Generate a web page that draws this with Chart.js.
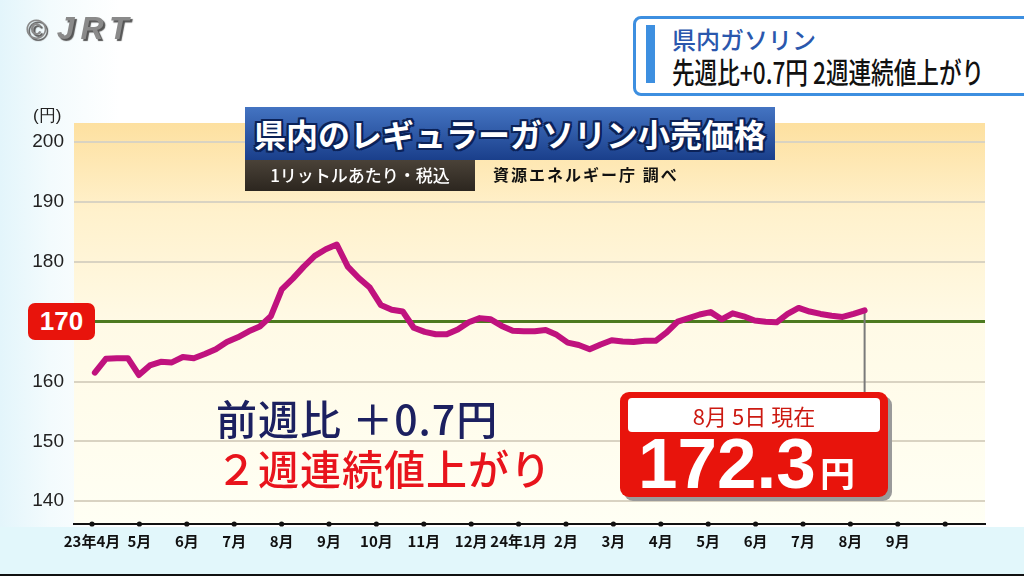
<!DOCTYPE html>
<html lang="ja">
<head>
<meta charset="utf-8">
<script src="https://cdn.jsdelivr.net/npm/chart.js@4/dist/chart.umd.min.js"></script>
<style>
  html, body { margin: 0; padding: 0; }
  body {
    width: 1024px; height: 576px; overflow: hidden; position: relative;
    background: linear-gradient(to right, #e3f5fb 0px, #f3fbfd 50px, #ffffff 120px);
    font-family: "Noto Sans CJK JP", "Noto Sans", sans-serif;
  }
  #chart { position: absolute; left: 0; top: 0; }
  .abs { position: absolute; white-space: nowrap; }
  #bottomStrip { left: 0; top: 527px; width: 1024px; height: 47px; background: #e2f7fb; border-bottom: 2px solid #111; }
  #logo { left: 26px; top: 10px; color: #8a8a8a; text-shadow: 2px 2px 1px #555; font-family: "Liberation Sans", sans-serif; }
  #logo .c { font-size: 28px; font-weight: bold; }
  #logo .j { font-size: 32px; font-weight: bold; font-style: italic; letter-spacing: 6px; margin-left: 10px; }
  #topBox { left: 633px; top: 16px; width: 400px; height: 74px; border: 3px solid #3d8fe0; border-radius: 8px; background: #fff; }
  #topBar { left: 10px; top: 6px; width: 9px; height: 58px; background: #3d8fe0; }
  #topLine1 { left: 36px; top: 2px; font-size: 24px; color: #2a57ad; font-weight: 500; }
  #topLine2 { left: 36px; top: 33px; font-size: 29px; color: #111; font-weight: 500; transform: scaleX(0.78); transform-origin: left top; line-height: 38px; }
  #yen { left: 33px; top: 104px; font-size: 17px; color: #222; font-family: "Liberation Sans", sans-serif; }
  #tag170 { left: 28px; top: 303px; width: 67px; height: 37px; background: #e8140c; border-radius: 7px; color: #fff;
    font: bold 26px "Liberation Sans", sans-serif; text-align: center; line-height: 37px; }
  #titleBox { left: 245px; top: 107px; width: 530px; height: 53px; background: linear-gradient(#4474c2, #1a3f8b);
    color: #fff; font-size: 32px; font-weight: bold; text-align: center; line-height: 52px;
    text-shadow: -2px -2px 0 #0b2258, 2px -2px 0 #0b2258, -2px 2px 0 #0b2258, 2px 2px 0 #0b2258, 0 2px 0 #0b2258, 0 -2px 0 #0b2258, 2px 0 0 #0b2258, -2px 0 0 #0b2258; }
  #subBox { left: 245px; top: 160px; width: 230px; height: 31px; background: linear-gradient(#4a4238, #2c261f);
    color: #fff; font-size: 17px; font-weight: 500; text-align: center; line-height: 30px; }
  #source { left: 493px; top: 162px; font-size: 16px; font-weight: bold; color: #111; letter-spacing: 2px; }
  #diff1 { left: 216px; top: 392px; font-size: 41px; font-weight: 500; color: #1c2060; line-height: 50px; letter-spacing: 1px; }
  #diff2 { left: 216px; top: 442px; font-size: 41px; font-weight: 500; color: #e8141c; line-height: 50px; letter-spacing: 1px; }
  #noteBox { left: 620px; top: 392px; width: 268px; height: 105px; background: #e8140c; border-radius: 9px; box-shadow: 4px 4px 0 #9a9a9a; }
  #noteDate { left: 8px; top: 6px; width: 252px; height: 34px; background: #fff; border-radius: 4px; color: #cc1a12;
    font-size: 22px; text-align: center; line-height: 34px; }
  #noteVal { left: 18px; top: 35px; color: #fff; font: bold 71px "Liberation Sans", sans-serif; line-height: 74px; letter-spacing: 0px; }
  #noteYen { left: 200px; top: 60px; color: #fff; font-size: 35px; font-weight: bold; line-height: 40px; }
</style>
</head>
<body>
<div id="bottomStrip" class="abs"></div>
<canvas id="chart" width="1024" height="576"></canvas>

<div id="logo" class="abs"><span class="c">©</span><span class="j">JRT</span></div>
<div id="topBox" class="abs">
  <div id="topBar" class="abs"></div>
  <div id="topLine1" class="abs">県内ガソリン</div>
  <div id="topLine2" class="abs">先週比+0.7円 2週連続値上がり</div>
</div>
<div id="yen" class="abs">(円)</div>
<div id="tag170" class="abs">170</div>
<div id="titleBox" class="abs">県内のレギュラーガソリン小売価格</div>
<div id="subBox" class="abs">1リットルあたり・税込</div>
<div id="source" class="abs">資源エネルギー庁 調べ</div>
<div id="diff1" class="abs">前週比 ＋0.7円</div>
<div id="diff2" class="abs">２週連続値上がり</div>
<div id="noteBox" class="abs">
  <div id="noteDate" class="abs">8月 5日 現在</div>
  <div id="noteVal" class="abs">172.3</div>
  <div id="noteYen" class="abs">円</div>
</div>

<script>
// 月ラベル (x軸, 1目盛り = 1か月)
const monthLabels = ['23年4月', '5月', '6月', '7月', '8月', '9月', '10月', '11月', '12月',
  '24年1月', '2月', '3月', '4月', '5月', '6月', '7月', '8月', '9月', ''];

// 週ごとのレギュラーガソリン価格 (2023/4/3 〜 2024/8/5, 円)
const prices = [
  161.5, 163.8, 163.9, 163.9, 161.1, 162.7, 163.3, 163.2, 164.1, 163.9,
  164.6, 165.4, 166.6, 167.4, 168.4, 169.2, 170.9, 175.4, 177.2, 179.2,
  181.0, 182.1, 182.9, 179.2, 177.3, 175.7, 172.8, 172.0, 171.7, 169.0,
  168.3, 167.9, 167.9, 168.7, 169.9, 170.6, 170.4, 169.3, 168.5, 168.4,
  168.4, 168.6, 167.8, 166.5, 166.1, 165.4, 166.2, 166.9, 166.7, 166.6,
  166.8, 166.8, 168.2, 170.0, 170.6, 171.2, 171.6, 170.4, 171.4, 170.9,
  170.2, 170.0, 169.9, 171.3, 172.3, 171.7, 171.3, 171.0, 170.8, 171.3, 171.9
];

const yTicks = [140, 150, 160, 170, 180, 190, 200];

// 最初の週 (4/3) の位置と1週間の長さ (月単位)
const firstWeek = 0.06;
const weekLen = 0.232;

const points = prices.map((p, i) => ({ x: firstWeek + i * weekLen, y: p }));

// 背景のグラデーション + 軸の点 + 現在値への線
const decorPlugin = {
  id: 'decor',
  beforeDraw(chart) {
    const { ctx, chartArea: a } = chart;
    const g = ctx.createLinearGradient(0, a.top, 0, a.bottom);
    g.addColorStop(0, '#fde0a0');
    g.addColorStop(0.22, '#fff1cc');
    g.addColorStop(0.5, '#fffae6');
    g.addColorStop(1, '#fffff4');
    ctx.save();
    ctx.fillStyle = g;
    ctx.fillRect(a.left, a.top, a.right - a.left, a.bottom - a.top);
    ctx.restore();
  },
  beforeDatasetsDraw(chart) {
    const { ctx } = chart;
    const meta = chart.getDatasetMeta(0);
    const last = meta.data[meta.data.length - 1];
    ctx.save();
    ctx.strokeStyle = '#7a7a7a';
    ctx.lineWidth = 2;
    ctx.beginPath();
    ctx.moveTo(last.x, last.y);
    ctx.lineTo(last.x, 400);
    ctx.stroke();
    ctx.restore();
  },
  afterDraw(chart) {
    const { ctx } = chart;
    const xs = chart.scales.x;
    ctx.save();
    ctx.fillStyle = '#111';
    xs.ticks.forEach(t => {
      ctx.beginPath();
      ctx.arc(xs.getPixelForValue(t.value), xs.top, 2.6, 0, Math.PI * 2);
      ctx.fill();
    });
    ctx.restore();
  }
};

new Chart(document.getElementById('chart'), {
  type: 'line',
  data: {
    datasets: [{
      data: points,
      borderColor: '#c0127e',
      borderWidth: 6,
      pointRadius: 0,
      tension: 0,
      borderJoinStyle: 'round',
      borderCapStyle: 'round'
    }]
  },
  options: {
    responsive: false,
    animation: false,
    layout: { padding: { top: 123, right: 39, left: 0, bottom: 0 } },
    plugins: { legend: { display: false }, tooltip: { enabled: false } },
    scales: {
      x: {
        type: 'linear',
        min: -0.38,
        max: 18.84,
        afterBuildTicks: s => { s.ticks = monthLabels.map((l, i) => ({ value: i })); },
        afterFit: s => { s.height = 52; },
        grid: { display: false },
        border: { color: '#111', width: 2 },
        ticks: {
          autoSkip: false,
          maxRotation: 0,
          padding: 0,
          color: '#111',
          font: { family: '"Liberation Sans Narrow", "Noto Sans CJK JP", sans-serif', size: 15, weight: 'bold' },
          callback: v => monthLabels[v]
        }
      },
      y: {
        min: 136.2,
        max: 203.2,
        afterBuildTicks: s => { s.ticks = yTicks.map(v => ({ value: v })); },
        afterFit: s => { s.width = 74; },
        border: { display: false },
        grid: {
          drawTicks: false,
          color: c => c.tick && c.tick.value === 170 ? '#4d7a1f' : '#d9d3c2',
          lineWidth: c => c.tick && c.tick.value === 170 ? 3 : 2
        },
        ticks: {
          padding: 10,
          color: '#222',
          font: { family: '"Liberation Sans", Arial, sans-serif', size: 19 },
          callback: v => v === 170 ? '' : v
        }
      }
    }
  },
  plugins: [decorPlugin]
});
</script>
</body>
</html>
